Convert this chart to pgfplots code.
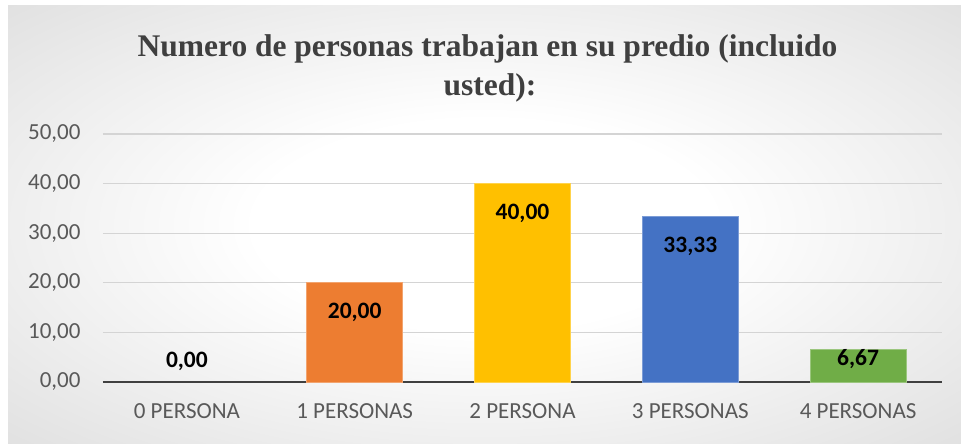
\documentclass[border=0pt]{standalone}
\usepackage{pgfplots}
\pgfplotsset{compat=1.18}
\usepackage{fontspec}
\setmainfont{Carlito}
\newfontfamily\titlefont{Liberation Serif}
\definecolor{cOr}{HTML}{ED7D31}
\definecolor{cYe}{HTML}{FFC000}
\definecolor{cBl}{HTML}{4472C4}
\definecolor{cGr}{HTML}{70AD47}
\definecolor{cTick}{HTML}{595959}
\definecolor{cTitle}{HTML}{3F3F3F}
\definecolor{cGrid}{HTML}{D4D4D4}
\pgfdeclareradialshading{bgshade}{\pgfpoint{0bp}{0bp}}{color(0bp)=(white); color(12bp)=(white); color(72bp)=(black!30)}
\begin{document}
\begin{tikzpicture}[x=1pt,y=1pt]
\useasboundingbox (0,0) rectangle (961,444);
\fill[white] (0,0) rectangle (961,444);
\shade[shading=bgshade] (8,0) rectangle (961,438);
\node[anchor=base, text=cTitle] at (487.5,387) {\titlefont\bfseries\fontsize{31.5}{37}\selectfont Numero de personas trabajan en su predio (incluido};
\node[anchor=base, text=cTitle] at (490,348) {\titlefont\bfseries\fontsize{31.5}{37}\selectfont usted):};
\begin{axis}[
  at={(103pt,62pt)}, anchor=south west,
  scale only axis, width=839pt, height=248pt,
  xmin=-0.5, xmax=4.5, ymin=0, ymax=50,
  ytick={0,10,20,30,40,50},
  xtick={0,1,2,3,4},
  xticklabels={0 PERSONA, 1 PERSONAS, 2 PERSONA, 3 PERSONAS, 4 PERSONAS},
  ymajorgrids, grid style={cGrid, line width=1.2pt},
  axis x line*=bottom, axis y line*=left,
  y axis line style={draw=none},
  x axis line style={draw=black!75, line width=2.8pt, -},
  major tick length=0pt,
  /pgf/number format/assume math mode=true,
  yticklabel style={/pgf/number format/fixed, /pgf/number format/fixed zerofill, /pgf/number format/precision=2, /pgf/number format/use comma, xshift=-19pt},
  ticklabel style={text=cTick, font=\fontsize{23}{27}\selectfont},
  xticklabel style={yshift=-18pt},
  ybar, bar width=96pt,
  nodes near coords={\pgfmathprintnumber[fixed,fixed zerofill,precision=2,use comma]{\pgfplotspointmeta}},
  every node near coord/.append style={anchor=center, text=black, font=\bfseries\fontsize{23.5}{27}\selectfont},
  clip=false,
]
\addplot[draw=none, fill=none, bar shift=0pt, every node near coord/.append style={yshift=21pt}] coordinates {(0,0)};
\addplot[fill=cOr, draw=cOr!70!white, line width=0.8pt, bar shift=0pt, every node near coord/.append style={yshift=-30pt}] coordinates {(1,20.00)};
\addplot[fill=cYe, draw=cYe!70!white, line width=0.8pt, bar shift=0pt, every node near coord/.append style={yshift=-30pt}] coordinates {(2,40.00)};
\addplot[fill=cBl, draw=cBl!70!white, line width=0.8pt, bar shift=0pt, every node near coord/.append style={yshift=-30pt}] coordinates {(3,33.33)};
\addplot[fill=cGr, draw=cGr!70!white, line width=0.8pt, bar shift=0pt, every node near coord/.append style={yshift=-10pt}] coordinates {(4,6.67)};
\end{axis}
\end{tikzpicture}
\end{document}
